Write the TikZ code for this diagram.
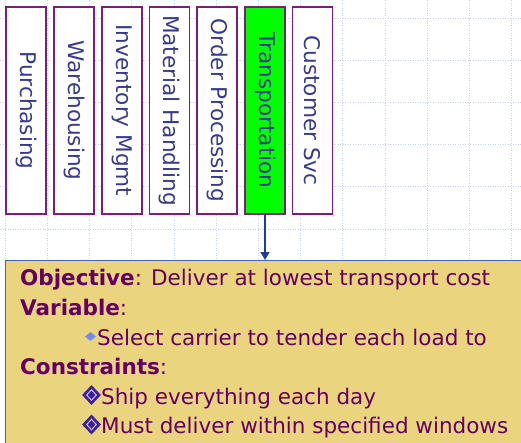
\documentclass[tikz,border=0pt]{standalone}
\usepackage{fontspec}
\usepackage{graphicx}
\setmainfont{DejaVu Sans}
\usetikzlibrary{arrows.meta,shapes.geometric}
\definecolor{gridc}{RGB}{196,210,248}
\definecolor{fborder}{RGB}{122,30,122}
\definecolor{ftext}{RGB}{58,58,140}
\definecolor{tgreen}{RGB}{0,255,0}
\definecolor{arrowc}{RGB}{30,60,160}
\definecolor{objfill}{RGB}{234,212,126}
\definecolor{objdraw}{RGB}{70,100,180}
\definecolor{objtext}{RGB}{100,0,100}
\definecolor{bulsmall}{RGB}{110,140,240}
\definecolor{buldark}{RGB}{64,30,150}
\definecolor{bullight}{RGB}{200,190,245}
\begin{document}
\begin{tikzpicture}[x=1pt,y=-1pt,
  gridline/.style={gridc, line width=0.9pt, dash pattern=on 1pt off 1.5pt},
  fbox/.style={draw=fborder, line width=1.6pt, fill=white, minimum width=40pt, minimum height=207pt, inner sep=0pt, text=ftext, font=\fontsize{21.6}{25}\selectfont},
  objbox/.style={draw=objdraw, line width=1.2pt, fill=objfill, anchor=north west, minimum width=530pt, minimum height=200pt, inner sep=0pt},
  txt/.style={anchor=base west, inner sep=0pt, text=objtext, font=\fontsize{21.5}{26}\selectfont},
  sbul/.style={diamond, fill=bulsmall, minimum width=11pt, minimum height=9pt, inner sep=0pt},
  dbul/.style={diamond, fill=buldark, minimum width=19pt, minimum height=20pt, inner sep=0pt},
  dbulin/.style={diamond, draw=bullight, line width=1pt, minimum width=10pt, minimum height=11pt, inner sep=0pt}
]
\useasboundingbox (0,0) rectangle (521,442);
\fill[white] (0,0) rectangle (521,442);
\foreach \i in {0,...,12} \draw[gridline] ({5.2+42.2*\i},0) -- ({5.2+42.2*\i},442);
\foreach \j in {0,...,5} \draw[gridline] (0,{18+42.2*\j}) -- (521,{18+42.2*\j});

\node[fbox] (p1) at (26,110.5) {\rotatebox{-90}{Purchasing}};
\node[fbox] (p2) at (74,110.5) {\rotatebox{-90}{Warehousing}};
\node[fbox] (p3) at (122,110.5) {\rotatebox{-90}{Inventory Mgmt}};
\node[fbox] (p4) at (169.5,110.5) {\rotatebox{-90}{Material Handling}};
\node[fbox] (p5) at (217,110.5) {\rotatebox{-90}{Order Processing}};
\node[fbox, fill=tgreen] (p6) at (265,110.5) {\rotatebox{-90}{Transportation}};
\node[fbox] (p7) at (312.5,110.5) {\rotatebox{-90}{Customer Svc}};

\node[objbox] (obj) at (5,260) {};
\draw[arrowc, line width=1.2pt, -{Triangle[length=8pt,width=9pt]}] (p6.south) -- (p6.south |- obj.north);

\node[txt] (l1) at (20,285) {\textbf{Objective}: Deliver at lowest transport cost};
\node[txt] (l2) at (20,315) {\textbf{Variable}:};
\node[sbul] (b1) at (90.5,336.5) {};
\node[txt] (l3) at (97,345) {Select carrier to tender each load to};
\node[txt] (l4) at (20,374) {\textbf{Constraints}:};
\node[dbul] (b2) at (91.5,395) {};
\node[dbulin] (b2i) at (b2) {};
\node[txt] (l5) at (101,404) {Ship everything each day};
\node[dbul] (b3) at (91.5,424.5) {};
\node[dbulin] (b3i) at (b3) {};
\node[txt] (l6) at (101,433) {Must deliver within specified windows};
\end{tikzpicture}
\end{document}
